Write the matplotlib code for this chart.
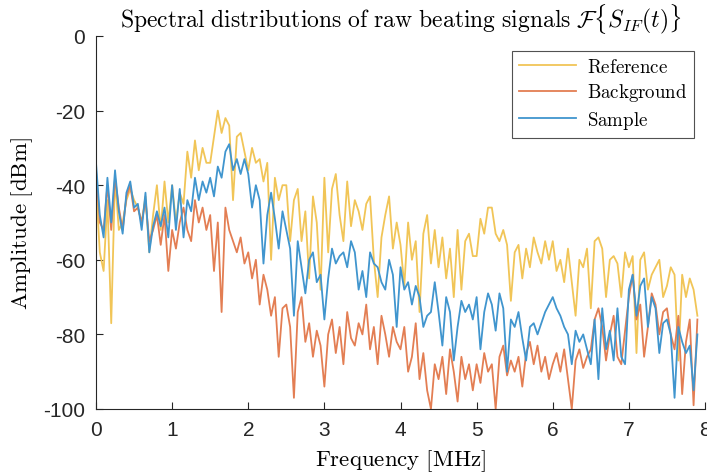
import numpy as np
import matplotlib
matplotlib.use("Agg")
import matplotlib.pyplot as plt

plt.rcParams['mathtext.fontset'] = 'cm'
plt.rcParams['axes.unicode_minus'] = False
plt.rcParams['font.family'] = ['Liberation Sans', 'DejaVu Sans']

# Frequency grid [MHz] (0 .. 7.9 in 0.05 steps)
freq = np.round(np.arange(159) * 0.05, 2)

reference = [
    -40, -58, -63, -44, -77, -38, -52, -50, -44, -41,
    -44, -46, -50, -43, -58, -48, -40, -52, -39, -50,
    -40, -50, -42, -45, -31, -38, -28, -36, -30, -34,
    -34, -27, -20, -26, -22, -24, -44, -27, -26, -31,
    -36, -30, -34, -33, -39, -34, -60, -38, -44, -40,
    -40, -55, -44, -41, -55, -47, -65, -43, -50, -68,
    -38, -58, -41, -37, -48, -55, -39, -51, -44, -47,
    -52, -45, -43, -60, -70, -54, -48, -43, -57, -50,
    -56, -67, -50, -60, -55, -74, -53, -48, -61, -52,
    -62, -54, -65, -57, -70, -52, -68, -55, -53, -59,
    -59, -49, -53, -46, -46, -53, -55, -52, -56, -71,
    -58, -56, -65, -57, -62, -54, -58, -61, -55, -60,
    -55, -63, -60, -66, -57, -66, -75, -60, -62, -57,
    -73, -55, -54, -57, -70, -60, -59, -61, -70, -58,
    -62, -59, -85, -60, -58, -68, -64, -62, -60, -70,
    -67, -62, -64, -87, -64, -70, -65, -68, -75,
]

background = [
    -36, -50, -52, -40, -52, -38, -46, -52, -43, -40,
    -47, -46, -50, -44, -55, -52, -48, -56, -48, -63,
    -52, -57, -50, -46, -52, -55, -44, -50, -46, -52,
    -48, -63, -50, -74, -46, -52, -55, -58, -54, -61,
    -58, -65, -60, -72, -64, -68, -75, -70, -86, -73,
    -72, -78, -97, -74, -70, -82, -77, -86, -79, -83,
    -94, -80, -76, -85, -78, -88, -74, -81, -83, -77,
    -80, -72, -84, -78, -88, -75, -80, -86, -78, -82,
    -84, -78, -90, -86, -77, -92, -85, -95, -100, -88,
    -92, -86, -96, -84, -90, -98, -86, -92, -88, -95,
    -88, -93, -85, -90, -88, -100, -86, -83, -91, -87,
    -90, -86, -94, -85, -82, -88, -83, -90, -86, -92,
    -88, -85, -90, -84, -92, -100, -87, -84, -89, -86,
    -84, -76, -73, -78, -87, -80, -75, -86, -88, -79,
    -70, -64, -76, -72, -86, -78, -69, -72, -80, -74,
    -73, -80, -84, -75, -96, -82, -76, -99, -76,
]

sample = [
    -34, -48, -54, -38, -50, -36, -47, -53, -42, -39,
    -46, -45, -52, -42, -58, -51, -47, -51, -46, -54,
    -40, -52, -41, -54, -44, -47, -38, -44, -39, -42,
    -38, -43, -35, -38, -31, -29, -36, -33, -37, -33,
    -37, -46, -40, -44, -61, -48, -42, -49, -57, -47,
    -52, -57, -75, -55, -62, -69, -60, -58, -66, -64,
    -76, -65, -57, -61, -59, -58, -62, -55, -58, -68,
    -63, -70, -58, -61, -62, -66, -68, -60, -64, -78,
    -62, -68, -66, -72, -67, -70, -78, -75, -74, -66,
    -74, -83, -70, -74, -87, -78, -71, -74, -72, -76,
    -70, -84, -74, -69, -72, -79, -69, -73, -90, -76,
    -78, -74, -81, -87, -78, -77, -80, -77, -74, -72,
    -70, -73, -75, -78, -80, -88, -79, -82, -80, -84,
    -88, -76, -92, -73, -84, -79, -87, -73, -86, -88,
    -68, -64, -75, -67, -65, -78, -70, -73, -85, -77,
    -76, -80, -97, -78, -82, -85, -83, -95, -80,
]

series_names = ['Reference', 'Background', 'Sample']
colors = ['#F1C557', '#E37E53', '#4095CE']

fig = plt.figure(figsize=(7.07, 4.77), dpi=100)
ax = fig.add_axes([96/707, 1 - 410/477, (705 - 96)/707, (410 - 37)/477])

for vals, name, c in zip([reference, background, sample], series_names, colors):
    ax.plot(freq, vals, color=c, lw=1.3, label=r'$\mathrm{%s}$' % name)

ax.set_xlim(0, 8)
ax.set_ylim(-100, 0)
ax.set_xticks(range(0, 9))
ax.set_yticks([-100, -80, -60, -40, -20, 0])
ax.set_yticklabels(['-100', '-80', '-60', '-40', '-20', '0'])

for s in ['top', 'right']:
    ax.spines[s].set_visible(False)
for s in ['left', 'bottom']:
    ax.spines[s].set_color('#262626')
    ax.spines[s].set_linewidth(0.8)
ax.tick_params(direction='in', length=5, width=0.8, colors='#262626',
               labelsize=15, pad=8)

ax.set_title(r'$\mathrm{Spectral\ distributions\ of\ raw\ beating\ signals}\ \mathcal{F}\{S_{IF}(t)\}$',
             fontsize=17, pad=7)
ax.set_xlabel(r'$\mathrm{Frequency\ [MHz]}$', fontsize=16.5, labelpad=6)
ax.set_ylabel(r'$\mathrm{Amplitude\ [dBm]}$', fontsize=16.5, labelpad=6)

leg = ax.legend(loc='upper right', fontsize=13.6, frameon=True, fancybox=False,
                edgecolor='#262626', borderpad=0.35, handlelength=3.0,
                handletextpad=0.6, labelspacing=0.3, borderaxespad=0,
                bbox_to_anchor=((694 - 96) / 609, (410 - 52) / 373))
leg.get_frame().set_linewidth(0.8)

fig.savefig('out.png', dpi=100)
